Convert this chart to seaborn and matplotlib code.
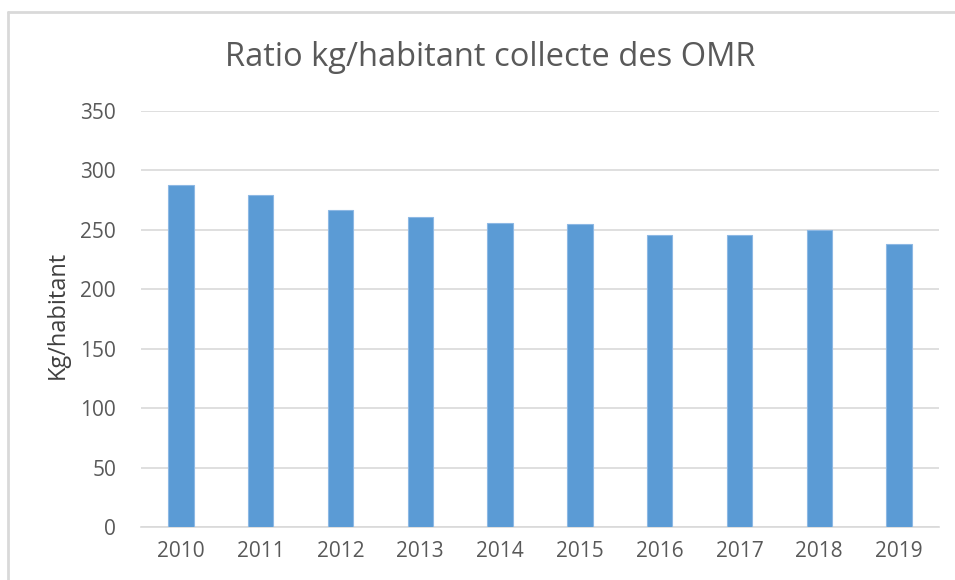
import matplotlib
matplotlib.use("Agg")
import matplotlib.pyplot as plt
import seaborn as sns
import pandas as pd
from matplotlib.lines import Line2D

years = ["2010", "2011", "2012", "2013", "2014", "2015", "2016", "2017", "2018", "2019"]
values = [287.5, 279, 267, 261, 256, 255, 246, 246, 249.5, 238.5]
yticks = [0, 50, 100, 150, 200, 250, 300, 350]

sns.set_theme(style="white")
plt.rcParams["font.family"] = ["Open Sans", "DejaVu Sans"]

df = pd.DataFrame({"year": years, "value": values})

fig = plt.figure(figsize=(9.55, 5.8), dpi=100)
ax = fig.add_axes([141 / 955, 1 - 527 / 580, (939 - 141) / 955, (527 - 111) / 580])

sns.barplot(data=df, x="year", y="value", color="#5B9BD5", width=0.32,
            saturation=1, ax=ax, edgecolor="#8DB8E4", linewidth=0.8, zorder=3)

ax.set_ylim(0, 350)
ax.set_yticks(yticks)
ax.set_yticklabels([str(t) for t in yticks])
ax.set_xlim(-0.5, len(years) - 0.5)
ax.yaxis.grid(True, color="#D9D9D9", linewidth=1.2, zorder=0)
ax.set_axisbelow(True)
for s in ["top", "right", "left"]:
    ax.spines[s].set_visible(False)
ax.spines["bottom"].set_color("#D9D9D9")
ax.spines["bottom"].set_linewidth(1.2)
ax.tick_params(axis="both", length=0, labelsize=15, labelcolor="#595959")
ax.tick_params(axis="y", pad=18)
ax.tick_params(axis="x", pad=10)
ax.set_xlabel("")
ax.set_ylabel("Kg/habitant", fontsize=17, color="#404040", labelpad=6)
ax.yaxis.set_label_coords(-71 / 798, 0.51)

fig.text(0.513, 1 - 57 / 580, "Ratio kg/habitant collecte des OMR", ha="center", va="center",
         fontsize=23.5, color="#595959")

fig.add_artist(Line2D([8 / 955, 1], [1 - 12 / 580, 1 - 12 / 580], color="#D9D9D9", linewidth=2,
                      transform=fig.transFigure))
fig.add_artist(Line2D([8 / 955, 8 / 955], [0, 1 - 12 / 580], color="#D9D9D9", linewidth=2,
                      transform=fig.transFigure))

fig.savefig("out.png", dpi=100)
